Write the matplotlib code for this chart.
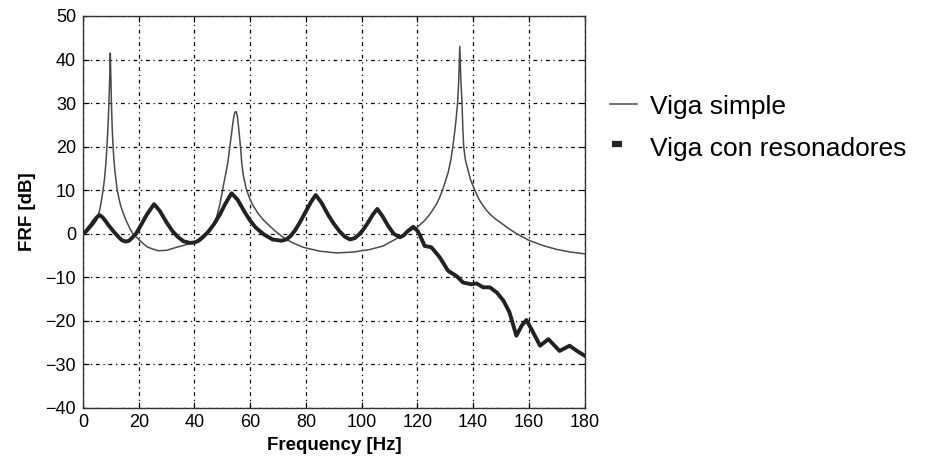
import numpy as np
import matplotlib
matplotlib.use("Agg")
from matplotlib import pyplot as plt
from matplotlib.lines import Line2D

plt.rcParams['font.family'] = ['Liberation Sans', 'DejaVu Sans']

# Viga simple (thin line)
f_simple = [0, 1, 2, 3, 4, 4.8, 5.5, 6, 6.6, 7.2, 7.7, 8.2, 8.6, 9, 9.3, 9.6, 9.8, 10, 10.2,
            10.5, 10.8, 11.1, 11.5, 12.3, 13, 13.5, 14.5, 15.5, 16.7, 17.9, 19, 20, 21.5,
            23, 25, 27, 30, 33.6, 37, 40, 43, 45, 46.7, 48, 49, 49.8, 50.5, 51.3, 52, 52.7,
            53.3, 53.8, 54.2, 54.6, 55, 55.4, 55.9, 56.5, 57, 57.5, 58.5, 59.3, 60, 61, 63,
            65, 67, 69, 71.8, 75, 79, 85, 91, 97, 103, 107.7, 112, 116, 120, 122.5, 124.5,
            126, 127, 128, 129, 130, 131, 132, 132.7, 133.3, 133.9, 134.4, 134.8, 135.2,
            135.6, 136, 136.3, 136.6, 137.2, 138, 139, 140.6, 142, 143, 144.5, 146, 148,
            150, 152.5, 155.6, 160, 165, 170, 175, 180]
db_simple = [0, 0.2, 0.8, 1.5, 2.3, 3, 4.3, 5.5, 7.5, 10, 12.5, 16, 20, 25, 30, 36, 41.5, 36, 30,
             24, 20, 17, 14, 10, 7.8, 6.5, 4.6, 3, 1.4, 0, -0.7, -1.3, -2.2,
             -3, -3.5, -3.9, -3.8, -3.1, -2.5, -2, -0.4, 0.6, 1.8, 4, 6.5, 9, 11.5, 14, 16.5, 20,
             23, 25.5, 27.2, 28, 28, 27, 24, 20, 16, 13.5, 10.5, 9, 7.8, 6.5, 4.5,
             3, 1.8, 0.6, -0.8, -2, -3.1, -4, -4.4, -4.2, -3.6, -2.8, -1.3, 0.3, 1.5, 3, 4.5,
             6, 7, 8.4, 10, 12, 14, 17, 20, 23, 26.5, 30, 35, 43,
             35, 30, 24, 20, 17, 15, 12.5, 10, 8, 7, 5.6, 4.5, 3.4,
             2.5, 1.3, 0, -1.5, -2.7, -3.6, -4.2, -4.6]

# Viga con resonadores (thick line)
f_reson = [0, 1, 2, 3, 4, 5, 5.9, 7, 8, 9, 10, 11, 12, 13, 14, 15.4, 16.5, 17.5, 19, 21, 23,
           25.5, 27.5, 30, 32, 34, 36, 38.4, 40, 41.5, 43, 45, 47, 49, 51, 53.3, 55.5, 58,
           60, 62, 65, 68, 71.2, 73, 74.5, 76, 78, 80, 82, 83.5, 85.5, 88, 90, 92, 94, 95.8,
           97.5, 99, 100.5, 102, 104, 105.6, 107.5, 109.5, 111.5, 113.7, 115, 116.5, 118.5,
           120, 121, 122.6, 125, 128, 131, 134, 136.4, 139.4, 141.2, 143.6, 146, 148.5,
           150.9, 153, 155.5, 157.5, 159.1, 161, 164, 167, 171, 174.6, 177, 180]
db_reson = [0, 0.5, 1.3, 2.1, 3, 3.8, 4.3, 3.8, 3, 2.1, 1.3, 0.5, -0.2, -0.9, -1.5, -1.8, -1.6,
            -1, 0, 2.2, 4.5, 6.8, 5.3, 2.6, 0.7, -0.7, -1.7, -2.1, -2, -1.6, -0.8, 0.5, 2.2,
            4.3, 6.8, 9.3, 7.8, 5, 3, 1.4, -0.2, -1.3, -1.6, -1.3, -0.5, 0.7, 2.8, 5.2, 7.5,
            8.9, 7.2, 4.3, 2.3, 0.6, -0.7, -1.3, -1, -0.2, 0.9, 2.3, 4.4, 5.7, 4, 1.8, 0,
            -0.8, -0.4, 0.6, 1.6, 0.7, -0.5, -2.8, -3.1, -5.4, -8.5, -9.7, -11.2, -11.6,
            -11.4, -12.3, -12.3, -13.5, -15.4, -18, -23.4, -21, -19.8, -22, -25.7, -24.2,
            -26.9, -25.7, -26.8, -28]

x_ticks = [0, 20, 40, 60, 80, 100, 120, 140, 160, 180]
y_ticks = [-40, -30, -20, -10, 0, 10, 20, 30, 40, 50]

fig = plt.figure(figsize=(9.43, 4.65), dpi=100)
ax = fig.add_axes([0.088, 0.1226, 0.532, 0.843])

ax.plot(f_simple, db_simple, color='#4a4a4a', lw=1.1)
ax.plot(f_reson, db_reson, color='#222222', lw=2.8)

ax.set_xlim(0, 180)
ax.set_ylim(-40, 50)
ax.set_xticks(x_ticks)
ax.set_yticks(y_ticks)
ax.grid(True, color='black', lw=0.9, linestyle=(0, (3, 3, 1, 3)))
ax.tick_params(direction='in', top=True, right=True, labelsize=13, length=4)
ax.tick_params(axis='x', pad=4)
ax.tick_params(axis='y', pad=5)
for s in ax.spines.values():
    s.set_linewidth(1.0)
    s.set_color('#333333')

ax.set_xlabel('Frequency [Hz]', fontsize=13.5, fontweight='bold', labelpad=5)
ax.set_ylabel('FRF [dB]', fontsize=13.5, fontweight='bold', labelpad=7)

# legend drawn by hand, to the right of the axes
fig.add_artist(Line2D([0.647, 0.675], [0.776, 0.776], color='#4a4a4a', lw=1.1))
fig.text(0.689, 0.770, 'Viga simple', fontsize=19, va='center', ha='left')
fig.add_artist(Line2D([0.649, 0.660], [0.690, 0.690], color='#222222', lw=4.5,
                      solid_capstyle='butt'))
fig.text(0.689, 0.680, 'Viga con resonadores', fontsize=19, va='center', ha='left')

fig.savefig('out.png', dpi=100)
